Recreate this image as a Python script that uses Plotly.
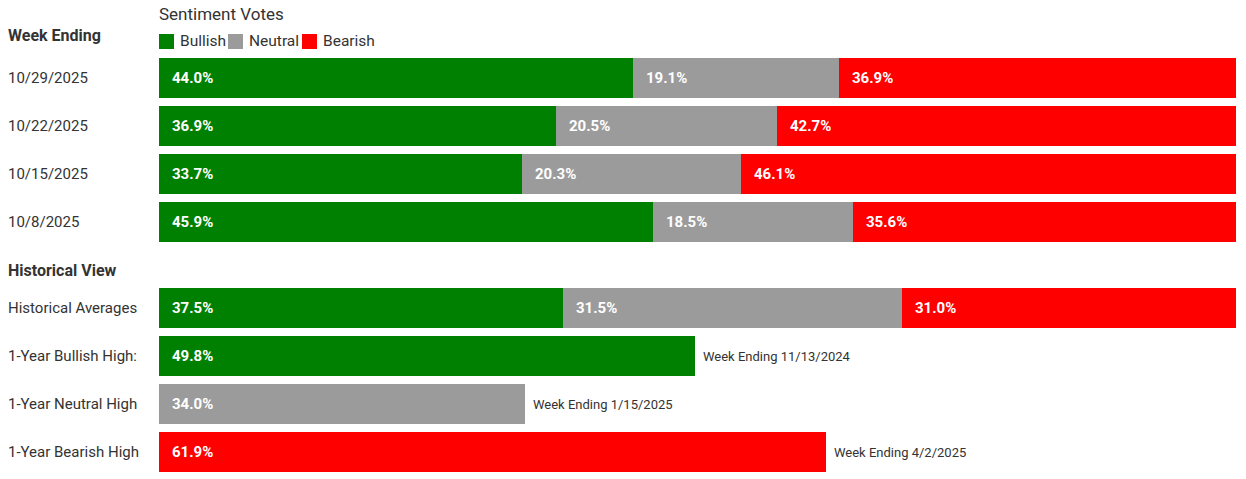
import plotly.graph_objects as go

# ---- data ----
weeks = ["10/29/2025", "10/22/2025", "10/15/2025", "10/8/2025"]
bullish = [44.0, 36.9, 33.7, 45.9]
neutral = [19.1, 20.5, 20.3, 18.5]
bearish = [36.9, 42.7, 46.1, 35.6]

hist_label = "Historical Averages"
hist_bullish = 37.5
hist_neutral = 31.5
hist_bearish = 31.0

high_labels = ["1-Year Bullish High:", "1-Year Neutral High", "1-Year Bearish High"]
high_values = [49.8, 34.0, 61.9]
high_dates = ["Week Ending 11/13/2024", "Week Ending 1/15/2025", "Week Ending 4/2/2025"]

series_names = ["Bullish", "Neutral", "Bearish"]
colors = {"Bullish": "#008000", "Neutral": "#9b9b9b", "Bearish": "#ff0000"}

FONT = "Roboto"
TXT = "#333333"

# ---- layout helpers (row positions) ----
gap = 86 / 48 - 1  # extra space for the "Historical View" header
week_pos = [i for i in range(len(weeks))]
hist_pos = len(weeks) + gap
high_pos = [hist_pos + 1 + i for i in range(len(high_values))]
bar_w = 40 / 48

PLOT_H = 422
PLOT_W = 1077

fig = go.Figure()

stack_pos = week_pos + [hist_pos]
stack_vals = {
    "Bullish": bullish + [hist_bullish],
    "Neutral": neutral + [hist_neutral],
    "Bearish": bearish + [hist_bearish],
}
for name in series_names:
    fig.add_trace(go.Bar(
        y=stack_pos, x=stack_vals[name], orientation="h", name=name,
        marker=dict(color=colors[name], line=dict(width=0)), width=bar_w,
        hoverinfo="x+name", showlegend=False,
    ))

for name, pos, val in zip(series_names, high_pos, high_values):
    fig.add_trace(go.Bar(
        y=[pos], x=[val], orientation="h", name=name,
        marker=dict(color=colors[name], line=dict(width=0)), width=bar_w,
        hoverinfo="x+name", showlegend=False,
    ))

ann = []
label_font = dict(family=FONT, size=15, color="white", weight="bold")
# value labels in stacked bars
for i, pos in enumerate(stack_pos):
    base = 0.0
    for name in series_names:
        v = stack_vals[name][i]
        ann.append(dict(x=base, y=pos, xref="x", yref="y", text=f"{v:.1f}%",
                        showarrow=False, xanchor="left", yanchor="middle", xshift=11,
                        font=label_font))
        base += v
for pos, val, d in zip(high_pos, high_values, high_dates):
    ann.append(dict(x=0, y=pos, xref="x", yref="y", text=f"{val:.1f}%",
                    showarrow=False, xanchor="left", yanchor="middle", xshift=11,
                    font=label_font))
    ann.append(dict(x=val, y=pos, xref="x", yref="y", text=d, showarrow=False,
                    xanchor="left", yanchor="middle", xshift=6,
                    font=dict(family=FONT, size=13, color=TXT)))

# row labels
left_x = (8 - 159) / PLOT_W
row_font = dict(family=FONT, size=15, color=TXT)
for pos, lab in zip(week_pos + [hist_pos] + high_pos, weeks + [hist_label] + high_labels):
    ann.append(dict(x=left_x, y=pos, xref="paper", yref="y", text=lab,
                    showarrow=False, xanchor="left", yanchor="middle", xshift=-2,
                    font=row_font))

# headers
head_font = dict(family=FONT, size=16, color=TXT, weight="bold")
ann.append(dict(x=left_x, y=1 + (54 - 35) / PLOT_H, xref="paper", yref="paper",
                text="Week Ending", showarrow=False, xanchor="left", yanchor="middle",
                xshift=-2, font=head_font))
ann.append(dict(x=left_x, y=len(weeks), xref="paper", yref="y",
                text="Historical View", showarrow=False, xanchor="left", yanchor="middle",
                xshift=-2, font=head_font))
ann.append(dict(x=0, y=1 + (54 - 14) / PLOT_H, xref="paper", yref="paper", text="Sentiment Votes",
                showarrow=False, xanchor="left", yanchor="middle", xshift=-2,
                font=dict(family=FONT, size=17, color=TXT)))

# custom legend
shapes = []
legend_x = [0, 69, 143]  # pixel offsets from plot left
ly = 1 + (54 - 41.5) / PLOT_H
for name, off in zip(series_names, legend_x):
    x0 = off / PLOT_W
    x1 = (off + 15) / PLOT_W
    shapes.append(dict(type="rect", xref="paper", yref="paper",
                       x0=x0, x1=x1, y0=ly - 7.5 / PLOT_H, y1=ly + 7.5 / PLOT_H,
                       fillcolor=colors[name], line=dict(width=0)))
    ann.append(dict(x=(off + 19) / PLOT_W, y=ly, xref="paper", yref="paper", text=name,
                    showarrow=False, xanchor="left", yanchor="middle",
                    font=dict(family=FONT, size=15.5, color=TXT)))

fig.update_layout(
    width=1246, height=479,
    margin=dict(l=159, r=10, t=54, b=3),
    barmode="stack",
    plot_bgcolor="white", paper_bgcolor="white",
    xaxis=dict(range=[0, 100], visible=False, fixedrange=True),
    yaxis=dict(range=[high_pos[-1] + 0.5, -0.5], visible=False, fixedrange=True),
    annotations=ann, shapes=shapes,
    font=dict(family=FONT),
    showlegend=False,
)

fig.write_html("out.html", config={"displayModeBar": False},
               post_script="document.body.style.margin='0';")
